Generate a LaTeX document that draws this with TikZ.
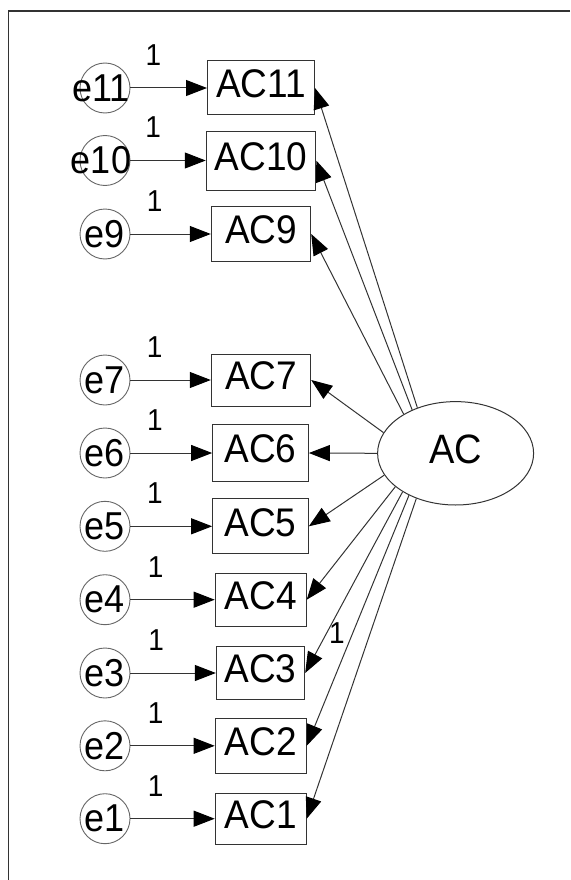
\documentclass[tikz,border=0pt]{standalone}
\usepackage{fontspec}
\setmainfont{Liberation Sans}
\usetikzlibrary{arrows.meta,shapes.geometric}
% slightly tall lettering
\newcommand{\talltext}[1]{\scalebox{1}[1.08]{#1}}
\begin{document}
\begin{tikzpicture}[x=1pt,y=-1pt,
  every node/.style={inner sep=0pt},
  obsbox/.style={draw=black!80, line width=1pt, text depth=8pt,
    font=\fontsize{37}{40}\selectfont},
  errnode/.style={circle, draw=black!60, line width=0.9pt, minimum size=50pt},
  errtext/.style={font=\fontsize{36}{40}\selectfont},
  latnode/.style={ellipse, draw=black!80, line width=1pt, minimum width=156pt,
    minimum height=103.4pt, text depth=8pt, font=\fontsize{38}{40}\selectfont},
  conn/.style={draw=black!80, line width=1pt,
    -{Triangle[length=21pt,width=16pt,color=black]}},
  wlabel/.style={font=\fontsize{28}{30}\selectfont}
]
% page extent
\path[use as bounding box] (0,0) rectangle (570,880);
% frame (top and left edges)
\draw[black!80, line width=1.5pt] (570,11) -- (8.7,11) -- (8.7,880);

% latent factor
\node[latnode] (AC) at (455.6,453.3) {\talltext{AC}};

% observed indicators
\node[obsbox, minimum width=107pt,  minimum height=54pt]   (ac11) at (261,88)    {\talltext{AC11}};
\node[obsbox, minimum width=109.5pt,minimum height=59pt]   (ac10) at (261,160.5) {\talltext{AC10}};
\node[obsbox, minimum width=99.4pt, minimum height=55.7pt] (ac9)  at (261,234)   {\talltext{AC9}};
\node[obsbox, minimum width=99.4pt, minimum height=52pt]   (ac7)  at (261,380)   {\talltext{AC7}};
\node[obsbox, minimum width=95.7pt, minimum height=56.3pt] (ac6)  at (260.5,453) {\talltext{AC6}};
\node[obsbox, minimum width=95.7pt, minimum height=55.3pt] (ac5)  at (260.5,526.3) {\talltext{AC5}};
\node[obsbox, minimum width=91pt,   minimum height=52.7pt] (ac4)  at (260.7,599.7) {\talltext{AC4}};
\node[obsbox, minimum width=88.3pt, minimum height=52.7pt] (ac3)  at (260.5,673) {\talltext{AC3}};
\node[obsbox, minimum width=91pt,   minimum height=55pt]   (ac2)  at (260.7,745.8) {\talltext{AC2}};
\node[obsbox, minimum width=91pt,   minimum height=50.7pt] (ac1)  at (260.7,818.7) {\talltext{AC1}};

% error terms
\node[errnode, label={[errtext, xshift=-4pt]center:\talltext{e11}}] (e11) at (105,88)    {};
\node[errnode, label={[errtext, xshift=-4pt]center:\talltext{e10}}] (e10) at (105,160.5) {};
\node[errnode, label={[errtext]center:\talltext{e9}}] (e9) at (105,234)   {};
\node[errnode, label={[errtext]center:\talltext{e7}}] (e7) at (105,380)   {};
\node[errnode, label={[errtext]center:\talltext{e6}}] (e6) at (105,453)   {};
\node[errnode, label={[errtext]center:\talltext{e5}}] (e5) at (105,526.3) {};
\node[errnode, label={[errtext]center:\talltext{e4}}] (e4) at (105,599.7) {};
\node[errnode, label={[errtext]center:\talltext{e3}}] (e3) at (105,673)   {};
\node[errnode, label={[errtext]center:\talltext{e2}}] (e2) at (105,745.8) {};
\node[errnode, label={[errtext]center:\talltext{e1}}] (e1) at (105,818.7) {};

% error paths, fixed at 1
\foreach \k in {11,10,9,7,6,5,4,3,2,1}{
  \draw[conn] (e\k) -- node[wlabel, pos=0.3, above=22pt] (w\k) {\talltext{1}} (ac\k);
}

% factor loadings
\draw[conn] (AC.130) -- (ac11.east);
\draw[conn] (AC.135) -- (ac10.east);
\draw[conn] (AC.143) -- (ac9.east);
\draw[conn] (AC.164) -- (ac7.east);
\draw[conn] (AC.180) -- (ac6.east);
\draw[conn] (AC.197) -- (ac5.east);
\draw[conn] (AC.209) -- (ac4.east);
\draw[conn] (AC.216) -- node[wlabel, pos=0.78, right=2pt] (l3) {\talltext{1}} (ac3.east);
\draw[conn] (AC.222) -- (ac2.east);
\draw[conn] (AC.229) -- (ac1.east);
\end{tikzpicture}
\end{document}
